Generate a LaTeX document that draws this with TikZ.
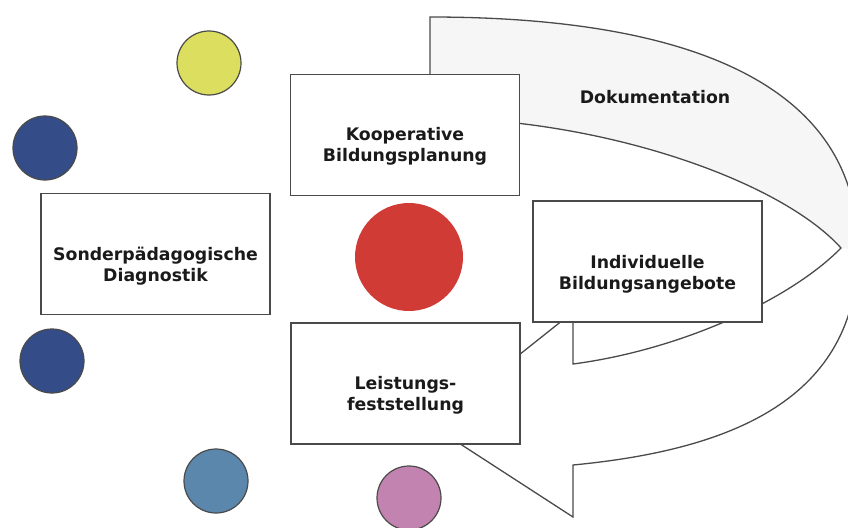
\documentclass[tikz,border=0pt]{standalone}
\usepackage{fontspec}
\setmainfont{DejaVu Sans}
\usepackage{tikz}
\usetikzlibrary{positioning, calc}
\definecolor{dyellow}{HTML}{DCDE60}
\definecolor{ddarkblue}{HTML}{344C87}
\definecolor{dlightblue}{HTML}{5B87AD}
\definecolor{dpink}{HTML}{C383B0}
\definecolor{dred}{HTML}{D03B36}
\definecolor{dband}{HTML}{F6F6F6}
\definecolor{dline}{HTML}{4A4A4A}
\definecolor{dtext}{HTML}{1A1A1A}

\begin{document}
\begin{tikzpicture}[x=1pt,y=-1pt]
		\tikzstyle{box} = [draw=dline, line width=1.8pt, fill=white, minimum width=229pt, minimum height=121pt, inner sep=0]
		\tikzstyle{boxtext} = [align=center, text=dtext, font=\fontsize{17.3}{21}\selectfont\bfseries, inner sep=0]
		\tikzstyle{dot} = [shape=circle, minimum size=64pt, inner sep=0, draw=dline, line width=1.2pt]
		\tikzstyle{ribbon} = [draw=dline, line width=1.3pt, line join=miter]
		\useasboundingbox (0,0) rectangle (848,527);
		\clip (0,0) rectangle (848,527);
		% curved arrow behind the boxes
		\fill [white] (430,118) -- (430,17) .. controls (680,17) and (858,80) .. (858,250)
			.. controls (858,400) and (730,450) .. (573,465) -- (573,517) -- (431,425) -- (573,312) -- (573,364)
			.. controls (680,350) and (790,300) .. (841,248) .. controls (780,180) and (600,118) .. (430,118) -- cycle;
		\fill [dband] (430,17) .. controls (680,17) and (858,80) .. (858,250) -- (841,248)
			.. controls (780,180) and (600,118) .. (430,118) -- cycle;
		\draw [ribbon] (430,118) -- (430,17) .. controls (680,17) and (858,80) .. (858,250)
			.. controls (858,400) and (730,450) .. (573,465) -- (573,517) -- (431,425) -- (573,312) -- (573,364)
			.. controls (680,350) and (790,300) .. (841,248) .. controls (780,180) and (600,118) .. (430,118);
		\node [boxtext] (v10) at (655,97) {Dokumentation};
		% boxes
		\node [box] (v1) at (155.5,254) {};
		\node [box] (v2) at (405,135) {};
		\node [box] (v3) at (405.5,383.5) {};
		\node [box] (v4) at (647.5,261.5) {};
		\node [boxtext] (v5) at ([yshift=-12pt]v1.center) {Sonderpädagogische\\Diagnostik};
		\node [boxtext] (v6) at ([yshift=-11pt]v2.center) {Kooperative\\Bildungsplanung};
		\node [boxtext] (v7) at ([yshift=-12pt]v3.center) {Leistungs-\\feststellung};
		\node [boxtext] (v8) at ([yshift=-13pt]v4.center) {Individuelle\\Bildungsangebote};
		% circles
		\node [dot, fill=dyellow] (v11) at (209,63) {};
		\node [dot, fill=ddarkblue] (v12) at (45,148) {};
		\node [dot, fill=ddarkblue] (v13) at (52,361) {};
		\node [dot, fill=dlightblue] (v14) at (216,481) {};
		\node [dot, fill=dpink] (v15) at (409,498) {};
		\node [shape=circle, minimum size=108pt, inner sep=0, fill=dred] (v16) at (409,257) {};
\end{tikzpicture}
\end{document}
